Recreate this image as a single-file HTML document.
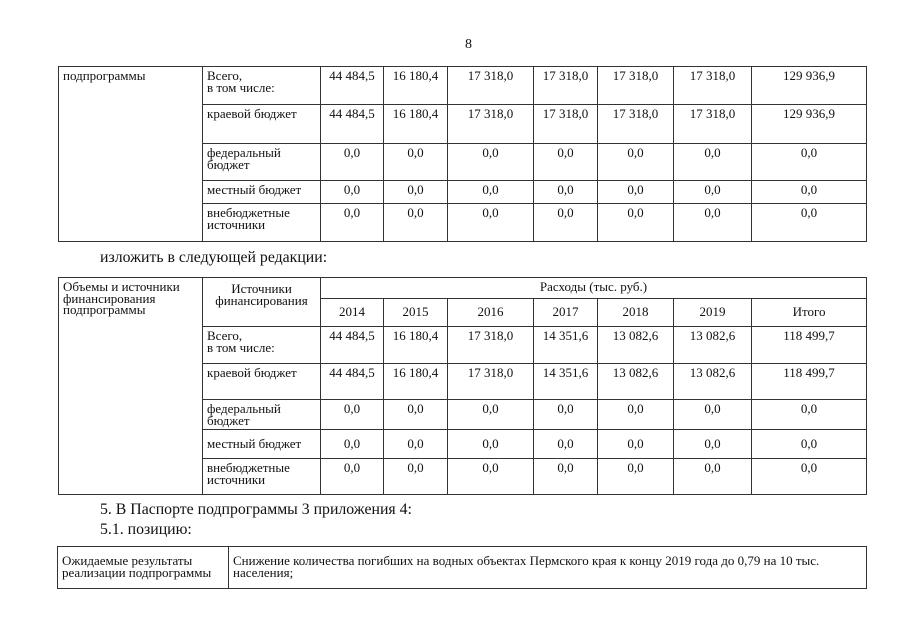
<!DOCTYPE html>
<html><head><meta charset="utf-8"><style>
body{margin:0;width:905px;height:640px;background:#fff;position:relative;font-family:"Liberation Serif",serif;color:#111;overflow:hidden}
table{position:absolute;border-collapse:collapse;table-layout:fixed;font-size:13px;line-height:11.5px}
td{border:1px solid #333;vertical-align:top;padding:3px 2px 0 4px;overflow:hidden;white-space:nowrap}
td.c{text-align:center;padding-left:0;padding-right:0}
.t{position:absolute;font-size:15.8px;white-space:nowrap}
</style></head><body>
<div class="t" style="left:465px;top:37px;font-size:14px">8</div>
<table style="left:58px;top:66px;width:808px">
<colgroup><col style="width:144px"><col style="width:118px"><col style="width:63px"><col style="width:64px"><col style="width:86px"><col style="width:64px"><col style="width:76px"><col style="width:78px"><col style="width:115px"></colgroup>
<tr style="height:38px"><td rowspan="5">подпрограммы</td><td>Всего,<br>в том числе:</td><td class="c">44 484,5</td><td class="c">16 180,4</td><td class="c">17 318,0</td><td class="c">17 318,0</td><td class="c">17 318,0</td><td class="c">17 318,0</td><td class="c">129 936,9</td></tr>
<tr style="height:39px"><td>краевой бюджет</td><td class="c">44 484,5</td><td class="c">16 180,4</td><td class="c">17 318,0</td><td class="c">17 318,0</td><td class="c">17 318,0</td><td class="c">17 318,0</td><td class="c">129 936,9</td></tr>
<tr style="height:37px"><td>федеральный<br>бюджет</td><td class="c">0,0</td><td class="c">0,0</td><td class="c">0,0</td><td class="c">0,0</td><td class="c">0,0</td><td class="c">0,0</td><td class="c">0,0</td></tr>
<tr style="height:23px"><td>местный бюджет</td><td class="c">0,0</td><td class="c">0,0</td><td class="c">0,0</td><td class="c">0,0</td><td class="c">0,0</td><td class="c">0,0</td><td class="c">0,0</td></tr>
<tr style="height:38px"><td>внебюджетные<br>источники</td><td class="c">0,0</td><td class="c">0,0</td><td class="c">0,0</td><td class="c">0,0</td><td class="c">0,0</td><td class="c">0,0</td><td class="c">0,0</td></tr>
</table>
<div class="t" style="left:100px;top:249px">изложить в следующей редакции:</div>
<table style="left:58px;top:277px;width:808px">
<colgroup><col style="width:144px"><col style="width:118px"><col style="width:63px"><col style="width:64px"><col style="width:86px"><col style="width:64px"><col style="width:76px"><col style="width:78px"><col style="width:115px"></colgroup>
<tr style="height:21px"><td rowspan="7">Объемы и источники<br>финансирования<br>подпрограммы</td><td rowspan="2" class="c" style="padding-top:5px">Источники<br>финансирования</td><td colspan="7" class="c">Расходы (тыс. руб.)</td></tr>
<tr style="height:28px"><td class="c" style="padding-top:7px">2014</td><td class="c" style="padding-top:7px">2015</td><td class="c" style="padding-top:7px">2016</td><td class="c" style="padding-top:7px">2017</td><td class="c" style="padding-top:7px">2018</td><td class="c" style="padding-top:7px">2019</td><td class="c" style="padding-top:7px">Итого</td></tr>
<tr style="height:37px"><td>Всего,<br>в том числе:</td><td class="c">44 484,5</td><td class="c">16 180,4</td><td class="c">17 318,0</td><td class="c">14 351,6</td><td class="c">13 082,6</td><td class="c">13 082,6</td><td class="c">118 499,7</td></tr>
<tr style="height:36px"><td>краевой бюджет</td><td class="c">44 484,5</td><td class="c">16 180,4</td><td class="c">17 318,0</td><td class="c">14 351,6</td><td class="c">13 082,6</td><td class="c">13 082,6</td><td class="c">118 499,7</td></tr>
<tr style="height:30px"><td>федеральный<br>бюджет</td><td class="c">0,0</td><td class="c">0,0</td><td class="c">0,0</td><td class="c">0,0</td><td class="c">0,0</td><td class="c">0,0</td><td class="c">0,0</td></tr>
<tr style="height:29px"><td style="padding-top:8px">местный бюджет</td><td class="c" style="padding-top:8px">0,0</td><td class="c" style="padding-top:8px">0,0</td><td class="c" style="padding-top:8px">0,0</td><td class="c" style="padding-top:8px">0,0</td><td class="c" style="padding-top:8px">0,0</td><td class="c" style="padding-top:8px">0,0</td><td class="c" style="padding-top:8px">0,0</td></tr>
<tr style="height:36px"><td>внебюджетные<br>источники</td><td class="c">0,0</td><td class="c">0,0</td><td class="c">0,0</td><td class="c">0,0</td><td class="c">0,0</td><td class="c">0,0</td><td class="c">0,0</td></tr>
</table>
<div class="t" style="left:100px;top:501px">5. В Паспорте подпрограммы 3 приложения 4:</div>
<div class="t" style="left:100px;top:521px">5.1. позицию:</div>
<table style="left:57px;top:546px;width:809px">
<colgroup><col style="width:171px"><col style="width:638px"></colgroup>
<tr style="height:42px"><td style="padding-top:8px">Ожидаемые результаты<br>реализации подпрограммы</td><td style="padding-top:8px">Снижение количества погибших на водных объектах Пермского края к концу 2019 года до 0,79 на 10 тыс.<br>населения;</td></tr>
</table>
</body></html>
